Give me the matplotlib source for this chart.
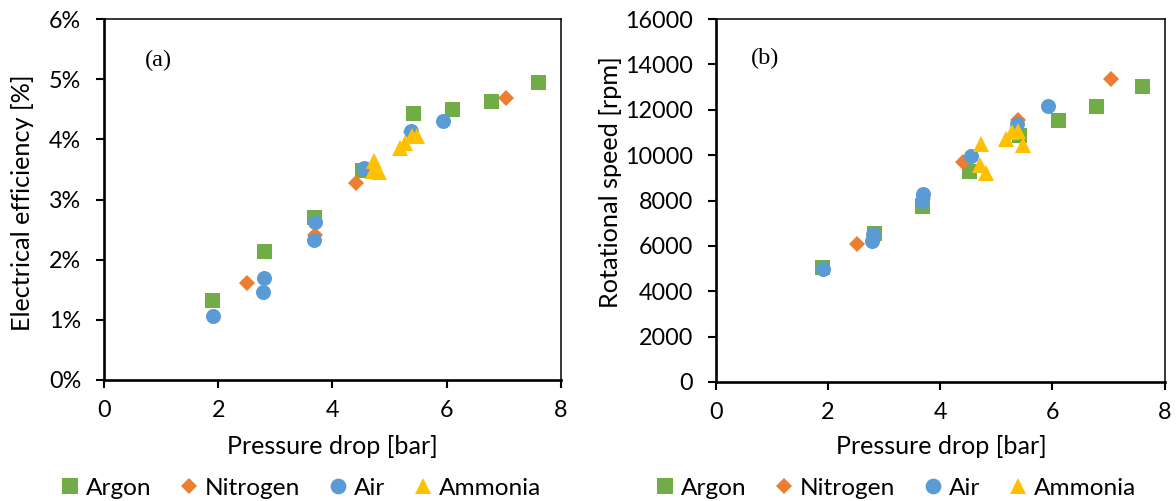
import matplotlib
matplotlib.use("Agg")
import matplotlib.pyplot as plt
from matplotlib.ticker import FuncFormatter
from matplotlib.lines import Line2D

plt.rcParams['font.family'] = ['Lato', 'DejaVu Sans']

# ---------------- data ----------------
series_names = ["Argon", "Nitrogen", "Air", "Ammonia"]

argon_dp = [1.89, 2.81, 3.68, 4.52, 5.41, 6.10, 6.78, 7.60]
argon_eff = [1.33, 2.15, 2.71, 3.49, 4.43, 4.50, 4.63, 4.95]
argon_rpm = [5050, 6580, 7760, 9290, 10880, 11570, 12170, 13050]

nitrogen_dp = [2.51, 3.70, 4.41, 5.38, 7.05]
nitrogen_eff = [1.62, 2.41, 3.27, 4.12, 4.68]
nitrogen_rpm = [6090, 8050, 9700, 11540, 13370]

air_dp = [1.91, 2.80, 2.79, 3.70, 3.67, 4.55, 5.37, 5.93]
air_eff = [1.06, 1.70, 1.47, 2.63, 2.32, 3.53, 4.14, 4.31]
air_rpm = [4990, 6520, 6210, 8280, 7980, 9970, 11390, 12170]

ammonia_dp = [4.73, 4.71, 4.81, 5.18, 5.28, 5.39, 5.48]
ammonia_eff = [3.64, 3.48, 3.46, 3.86, 3.94, 4.05, 4.05]
ammonia_rpm = [10510, 9550, 9230, 10730, 11020, 11070, 10440]

x_ticks = [0, 2, 4, 6, 8]
eff_ticks = [0, 1, 2, 3, 4, 5, 6]
rpm_ticks = [0, 2000, 4000, 6000, 8000, 10000, 12000, 14000, 16000]

colors = ["#70AD47", "#ED7D31", "#5B9BD5", "#FFC000"]
markers = ["s", "D", "o", "^"]
msizes = [10.8, 8.0, 10.8, 11.0]

# ---------------- figure ----------------
W, H = 1176.0, 501.0
fig = plt.figure(figsize=(W / 100, H / 100), dpi=100)
renderer = fig.canvas.get_renderer()


def fit_size(text, target_px, family=None, rotation=0):
    kw = {} if family is None else {"family": family}
    t = fig.text(0, 0, text, fontsize=20, rotation=rotation, **kw)
    bb = t.get_window_extent(renderer)
    t.remove()
    span = bb.height if rotation else bb.width
    return 20 * target_px / span


tick_fs = fit_size("16000", 68)
xlab_fs = fit_size("Pressure drop [bar]", 212)
ylab_fs = fit_size("Electrical efficiency [%]", 258, rotation=90)
leg_fs = fit_size("Ammonia", 102)
tag_fs = fit_size("(a)", 27, family="Liberation Serif")

ax1 = fig.add_axes([104 / W, 1 - 380 / H, 456.7 / W, 361 / H])
ax2 = fig.add_axes([716 / W, 1 - 382 / H, 448.5 / W, 363 / H])

data_a = [(argon_dp, argon_eff), (nitrogen_dp, nitrogen_eff), (air_dp, air_eff), (ammonia_dp, ammonia_eff)]
data_b = [(argon_dp, argon_rpm), (nitrogen_dp, nitrogen_rpm), (air_dp, air_rpm), (ammonia_dp, ammonia_rpm)]

for ax, data in ((ax1, data_a), (ax2, data_b)):
    for (xs, ys), c, m, ms, name in zip(data, colors, markers, msizes, series_names):
        ax.plot(xs, ys, linestyle="none", marker=m, markersize=ms, color=c,
                markeredgewidth=0, label=name, clip_on=False)


def style(ax, yticks, ylabel, ylab_xy, tag, tag_xy, xlab_xy, leg_x):
    ax.set_xlim(0, 8)
    ax.set_xticks(x_ticks)
    ax.set_ylim(yticks[0], yticks[-1])
    ax.set_yticks(yticks)
    for s in ("left", "bottom"):
        ax.spines[s].set_linewidth(1.9)
        ax.spines[s].set_color("black")
    for s in ("top", "right"):
        ax.spines[s].set_linewidth(1.1)
        ax.spines[s].set_color("black")
    ax.tick_params(direction="out", length=5.5, width=1.5, labelsize=tick_fs,
                   colors="black")
    ax.tick_params(axis="y", pad=11)
    ax.tick_params(axis="x", pad=9)
    fig.text(xlab_xy[0] / W, 1 - xlab_xy[1] / H, "Pressure drop [bar]",
             fontsize=xlab_fs, ha="center", va="center")
    fig.text(ylab_xy[0] / W, 1 - ylab_xy[1] / H, ylabel, rotation=90,
             fontsize=ylab_fs, ha="center", va="center")
    fig.text(tag_xy[0] / W, 1 - tag_xy[1] / H, tag, fontsize=tag_fs,
             family="Liberation Serif", va="center", ha="left")
    handles = [Line2D([], [], linestyle="none", marker=m, color=c, markersize=ms * 1.05,
                      markeredgewidth=0) for c, m, ms in zip(colors, markers, msizes)]
    fig.legend(handles, series_names, loc="center", bbox_to_anchor=(leg_x / W, 1 - 488 / H),
               ncol=4, frameon=False, fontsize=leg_fs, handletextpad=0.2,
               columnspacing=1.1, handlelength=0.9, borderpad=0, borderaxespad=0)


style(ax1, eff_ticks, "Electrical efficiency [%]", (23, 203), "(a)", (145, 60), (332, 446), 300)
ax1.yaxis.set_major_formatter(FuncFormatter(lambda v, p: f"{v:.0f}%"))
style(ax2, rpm_ticks, "Rotational speed [rpm]", (610, 182), "(b)", (751, 58), (941, 446), 895)

fig.savefig("out.png", dpi=100)
